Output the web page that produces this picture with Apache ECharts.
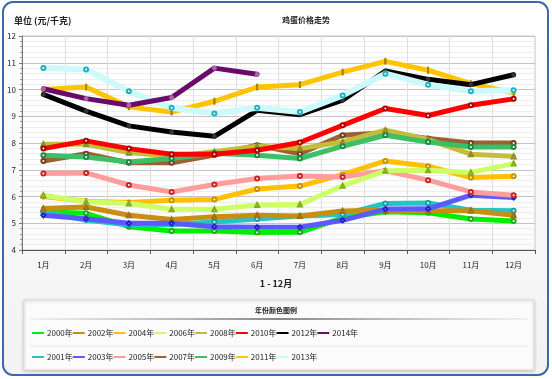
<!DOCTYPE html>
<html><head><meta charset="utf-8">
<script src="https://cdn.jsdelivr.net/npm/echarts@6/dist/echarts.min.js"></script>
<style>html,body{margin:0;padding:0;background:#fff}#c{width:552px;height:379px}</style>
</head><body><div id="c"></div>
<script>
const months = ['1月','2月','3月','4月','5月','6月','7月','8月','9月','10月','11月','12月'];
const yTicks = [4,5,6,7,8,9,10,11,12];
const years = ['2000年','2001年','2002年','2003年','2004年','2005年','2006年','2007年','2008年','2009年','2010年','2011年','2012年','2013年','2014年'];
const s2000 = [5.43,5.37,4.87,4.71,4.71,4.65,4.66,5.2,5.43,5.39,5.16,5.08];
const s2001 = [5.4,5.12,4.93,4.95,5.05,5.16,5.27,5.33,5.74,5.76,5.49,5.47];
const s2002 = [5.55,5.61,5.3,5.14,5.24,5.3,5.27,5.46,5.49,5.47,5.47,5.3];
const s2003 = [5.3,5.17,5.0,5.0,4.87,4.85,4.85,5.11,5.53,5.54,6.05,5.96];
const s2004 = [6.0,5.82,5.78,5.86,5.89,6.28,6.39,6.82,7.33,7.13,6.71,6.76];
const s2005 = [6.86,6.88,6.43,6.17,6.45,6.67,6.77,6.73,6.96,6.61,6.17,6.05];
const s2006 = [6.05,5.8,5.74,5.52,5.52,5.68,5.7,6.4,6.96,6.98,6.9,7.23];
const s2007 = [7.33,7.6,7.26,7.26,7.55,7.92,7.6,8.29,8.38,8.17,8.0,8.0];
const s2008 = [7.95,7.95,7.64,7.5,7.67,7.88,7.79,8.04,8.48,8.13,7.58,7.5];
const s2009 = [7.54,7.48,7.29,7.42,7.62,7.54,7.42,7.88,8.29,8.04,7.85,7.85];
const s2010 = [7.79,8.08,7.79,7.58,7.58,7.73,8.02,8.66,9.29,9.03,9.41,9.65];
const s2011 = [10.0,10.09,9.35,9.16,9.56,10.09,10.18,10.65,11.05,10.72,10.22,9.88];
const s2012 = [9.82,9.19,8.64,8.41,8.25,9.22,9.06,9.6,10.69,10.38,10.18,10.55];
const s2013 = [10.8,10.75,9.93,9.32,9.1,9.32,9.16,9.78,10.59,10.18,9.93,9.97];
const s2014 = [10.03,9.66,9.41,9.7,10.8,10.57];
const seriesData = [s2000,s2001,s2002,s2003,s2004,s2005,s2006,s2007,s2008,s2009,s2010,s2011,s2012,s2013,s2014];
const lineColors = ['#00ee00','#22c4c4','#c98e10','#5a5aff','#ffc000','#ff9c9c','#ccff66','#9a6232','#c3bd3c','#3cbf66','#ff0000','#ffc400','#000000','#ccfafa','#6a0a6a'];
const markColors = ['#22aa22','#1aa0a0','#a07010','#2222cc','#c89000','#cc2222','#88aa22','#704020','#908a20','#208844','#aa0000','#a08000','#333333','#22b0c0','#aa66aa'];
const markSymbols = ['emptyCircle','emptyCircle','emptyTriangle','emptyDiamond','emptyCircle','emptyCircle','emptyTriangle','emptyCircle','emptyTriangle','emptyCircle','emptyCircle','rect','circle','emptyCircle','circle'];
const widths = [5,5,5,5,5,5,5,5,5,5,5,5,5,6,5];

const chart = echarts.init(document.getElementById('c'), null, {renderer:'canvas'});
const FONT = '"Noto Sans CJK SC", "DejaVu Sans", sans-serif';

const series = years.map((y,i)=>({
  name: y, type:'line', data: seriesData[i],
  symbol: markSymbols[i], symbolSize: markSymbols[i]==='rect' ? [1.5,5] : 4, showSymbol: true,
  lineStyle:{color: lineColors[i], width: widths[i], cap:'round', join:'round'},
  itemStyle:{color: markColors[i], borderColor: markColors[i], borderWidth:1},
  emphasis:{disabled:true}, animation:false, z: 2+i
}));

const row1 = years.filter((y,i)=>i%2===0);
const row2 = years.filter((y,i)=>i%2===1);
function legendItems(list){
  return list.map(n=>({name:n, icon:'rect', itemStyle:{color: lineColors[years.indexOf(n)], borderWidth:0}}));
}
const legendCommon = {
  orient:'horizontal', padding:0, itemGap:0, itemWidth:12, itemHeight:2,
  selectedMode:false,
  textStyle:{fontSize:8, color:'#222', width:45, fontFamily: FONT, padding:[0,0,0,-2]}
};

chart.setOption({
  animation:false,
  textStyle:{fontFamily: FONT},
  grid:{left:22, right:17, top:36, bottom:129, show:true, borderColor:'#c8c8c8', borderWidth:1, backgroundColor:'rgba(255,255,255,0.6)'},
  graphic:[
    {type:'rect', z:-10, shape:{x:3,y:2,width:545,height:373,r:10},
     style:{fill:new echarts.graphic.LinearGradient(0,0,0,1,[{offset:0,color:'#ffffff'},{offset:1,color:'#f2f2f2'}]), stroke:'#3b6aa6', lineWidth:2}},
    {type:'rect', z:-5, shape:{x:24,y:300,width:510,height:70},
     style:{fill:'#fbfbfb', stroke:'#dadada', lineWidth:1, shadowBlur:3, shadowColor:'rgba(0,0,0,0.18)', shadowOffsetY:1}},
    {type:'line', z:-4, shape:{x1:30,y1:319,x2:528,y2:319},
     style:{stroke:new echarts.graphic.LinearGradient(0,0,1,0,[{offset:0,color:'rgba(160,160,160,0.1)'},{offset:0.5,color:'#888'},{offset:1,color:'rgba(160,160,160,0.1)'}]), lineWidth:2}},
    {type:'line', z:-4, shape:{x1:30,y1:346,x2:528,y2:346}, style:{stroke:'#e6e6e6', lineWidth:1}},
    {type:'text', left:14, top:16, style:{text:'单位 (元/千克)', font:'bold 9px "Noto Sans CJK SC"', fill:'#222'}},
    {type:'text', left:282, top:16, style:{text:'鸡蛋价格走势', font:'bold 8px "Noto Sans CJK SC"', fill:'#222'}},
    {type:'text', left:'center', top:279, style:{text:'1 - 12月', font:'bold 9px "Noto Sans CJK SC"', fill:'#222'}},
    {type:'text', left:'center', top:307, style:{text:'年份颜色图例', font:'bold 7px "Noto Sans CJK SC"', fill:'#222'}}
  ],
  legend:[
    Object.assign({}, legendCommon, {left:32, top:329, data: legendItems(row1)}),
    Object.assign({}, legendCommon, {left:32, top:353, data: legendItems(row2)})
  ],
  xAxis:{type:'category', data: months, boundaryGap:true,
    axisLine:{lineStyle:{color:'#555', width:1}},
    axisTick:{show:true, alignWithLabel:false, length:4, lineStyle:{color:'#555'}},
    axisLabel:{fontSize:8, color:'#222', margin:11},
    splitLine:{show:true, lineStyle:{color:'#dedede'}}},
  yAxis:{type:'value', min:4, max:12, interval:1,
    axisLine:{show:true, lineStyle:{color:'#777'}},
    axisTick:{show:true, length:3, lineStyle:{color:'#777'}},
    minorTick:{show:true, splitNumber:5, length:2, lineStyle:{color:'#999'}},
    minorSplitLine:{show:true, lineStyle:{color:'#eeeeee'}},
    axisLabel:{fontSize:8, color:'#222', margin:6},
    splitLine:{show:true, lineStyle:{color:'#c4c4c4'}}},
  series: series
});
</script>
</body></html>
